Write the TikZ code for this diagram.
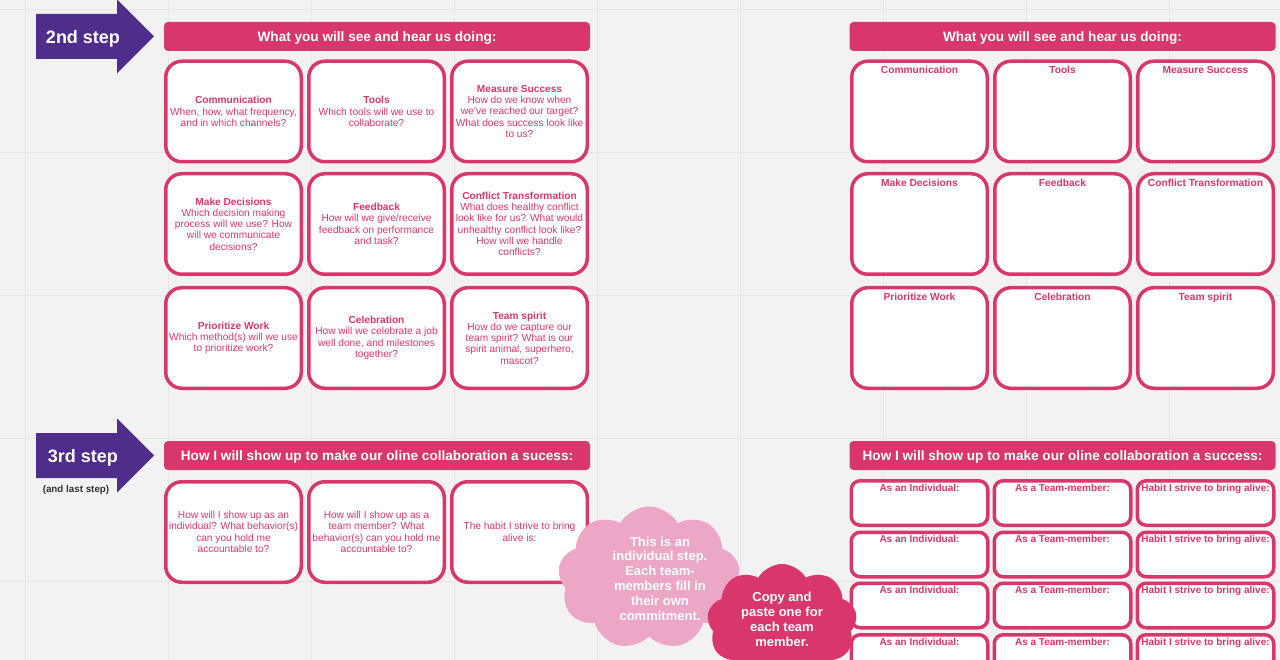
\documentclass[tikz,border=0pt]{standalone}
\usepackage{fontspec}
\setmainfont{Liberation Sans}
\usetikzlibrary{shapes.symbols}
\definecolor{bgc}{HTML}{F2F2F2}
\definecolor{gridc}{HTML}{E6E6E6}
\definecolor{pinkd}{HTML}{D9376B}
\definecolor{pinkl}{HTML}{EBA7C5}
\definecolor{purp}{HTML}{4F2D8A}
\definecolor{dgray}{HTML}{333333}
\begin{document}
\begin{tikzpicture}[x=1pt,y=-1pt,
  card/.style={draw=pinkd, line width=3.5pt, fill=white, rounded corners=16pt,
    minimum width=135.5pt, minimum height=100.5pt, inner sep=0pt, align=center,
    text=pinkd, font=\fontsize{10.15}{11.3}\selectfont},
  smallcard/.style={draw=pinkd, line width=3.5pt, fill=white, rounded corners=9pt,
    minimum width=136.5pt, minimum height=44.5pt, inner sep=0pt},
  ctitle/.style={anchor=north, yshift=-6.5pt, text=pinkd, font=\fontsize{10.2}{12}\selectfont\bfseries, inner sep=0pt},
  header/.style={fill=pinkd, rounded corners=4pt, minimum width=426pt, minimum height=29pt,
    inner sep=0pt, text depth=0pt, text=white, font=\fontsize{13.6}{16}\selectfont\bfseries},
  stepnote/.style={text=white, text depth=0pt, font=\fontsize{18}{20}\selectfont\bfseries, inner sep=0pt},
  cloudtext/.style={text=white, align=center, font=\fontsize{13}{14.8}\selectfont\bfseries, inner sep=0pt},
  cloudbg/.style={cloud, cloud puffs=9, cloud puff arc=120, aspect=1.25, inner sep=0pt}
]
\useasboundingbox (0,0) rectangle (1280,660);
\clip (0,0) rectangle (1280,660);
\fill[bgc] (0,0) rectangle (1280,660);
\foreach \gx in {25,168,311,454,597,740,883,1026,1169}
  \draw[gridc, line width=1pt] (\gx,0) -- (\gx,660);
\foreach \gy in {9.5,152.5,295.5,438.5,581.5}
  \draw[gridc, line width=1pt] (0,\gy) -- (1280,\gy);

% step arrows
\fill[purp] (36,14) -- (117,14) -- (117,-0.5) -- (154,36.5) -- (117,73.5) -- (117,59) -- (36,59) -- cycle;
\node[stepnote] (s2) at (83,36.5) {2nd step};
\fill[purp] (36,433) -- (117,433) -- (117,418.5) -- (154,455.5) -- (117,492.5) -- (117,478) -- (36,478) -- cycle;
\node[stepnote] (s3) at (83,455.5) {3rd step};
\node[text=dgray, font=\fontsize{9.8}{11}\selectfont\bfseries, inner sep=0pt] (s3n) at (76,490) {(and last step)};

% headers
\node[header] (hL1) at (377,36.5) {What you will see and hear us doing:};
\node[header] (hR1) at (1062.5,36.5) {What you will see and hear us doing:};
\node[header] (hL2) at (377,455.5) {How I will show up to make our oline collaboration a sucess:};
\node[header] (hR2) at (1062.5,455.5) {How I will show up to make our oline collaboration a success:};

% left cards
\node[card] (c11) at (233.5,111.5) {\textbf{Communication}\\When, how, what frequency,\\and in which channels?};
\node[card] (c12) at (376.5,111.5) {\textbf{Tools}\\Which tools will we use to\\collaborate?};
\node[card] (c13) at (519.5,111.5) {\textbf{Measure Success}\\How do we know when\\we've reached our target?\\What does success look like\\to us?};
\node[card] (c21) at (233.5,224) {\textbf{Make Decisions}\\Which decision making\\process will we use? How\\will we communicate\\decisions?};
\node[card] (c22) at (376.5,224) {\textbf{Feedback}\\How will we give/receive\\feedback on performance\\and task?};
\node[card] (c23) at (519.5,224) {\textbf{Conflict Transformation}\\What does healthy conflict\\look like for us? What would\\unhealthy conflict look like?\\How will we handle\\conflicts?};
\node[card] (c31) at (233.5,338) {\textbf{Prioritize Work}\\Which method(s) will we use\\to prioritize work?};
\node[card] (c32) at (376.5,338) {\textbf{Celebration}\\How will we celebrate a job\\well done, and milestones\\together?};
\node[card] (c33) at (519.5,338) {\textbf{Team spirit}\\How do we capture our\\team spirit? What is our\\spirit animal, superhero,\\mascot?};

\node[card] (b1) at (233.5,532) {How will I show up as an\\individual? What behavior(s)\\can you hold me\\accountable to?};
\node[card] (b2) at (376.5,532) {How will I show up as a\\team member? What\\behavior(s) can you hold me\\accountable to?};
\node[card] (b3) at (519.5,532) {The habit I strive to bring\\alive is:};

% right cards
\node[card, label={[ctitle]north:Communication}] (r11) at (919.5,111.5) {};
\node[card, label={[ctitle]north:Tools}] (r12) at (1062.5,111.5) {};
\node[card, label={[ctitle]north:Measure Success}] (r13) at (1205.5,111.5) {};
\node[card, label={[ctitle]north:Make Decisions}] (r21) at (919.5,224) {};
\node[card, label={[ctitle]north:Feedback}] (r22) at (1062.5,224) {};
\node[card, label={[ctitle]north:Conflict Transformation}] (r23) at (1205.5,224) {};
\node[card, label={[ctitle]north:Prioritize Work}] (r31) at (919.5,338) {};
\node[card, label={[ctitle]north:Celebration}] (r32) at (1062.5,338) {};
\node[card, label={[ctitle]north:Team spirit}] (r33) at (1205.5,338) {};

\foreach \ry [count=\k] in {503,554.5,605.5,657}{
  \node[smallcard, label={[ctitle, yshift=1.5pt, font=\fontsize{10}{12}\selectfont\bfseries]north:As an Individual:}] (i\k) at (919.5,\ry) {};
  \node[smallcard, label={[ctitle, yshift=1.5pt, font=\fontsize{10}{12}\selectfont\bfseries]north:As a Team-member:}] (t\k) at (1062.5,\ry) {};
  \node[smallcard, label={[ctitle, yshift=1.5pt, font=\fontsize{10}{12}\selectfont\bfseries]north:Habit I strive to bring alive:}] (h\k) at (1205.5,\ry) {};
}

% clouds
\node[cloudbg, fill=pinkl, minimum width=182pt, minimum height=143pt] (cl1) at (649,578) {};
\node[cloudtext] (cl1t) at (660,578.5) {This is an\\individual step.\\Each team-\\members fill in\\their own\\commitment.};
\node[cloudbg, fill=pinkd, minimum width=150pt, minimum height=118pt] (cl2) at (782,623) {};
\node[cloudtext] (cl2t) at (782,619.5) {Copy and\\paste one for\\each team\\member.};
\end{tikzpicture}
\end{document}
